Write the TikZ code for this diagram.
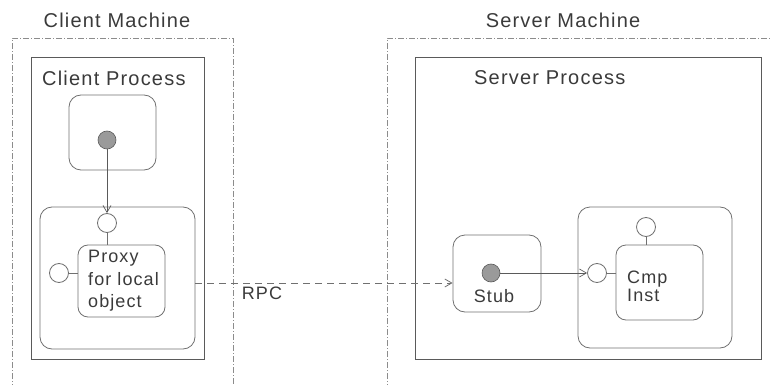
\documentclass[tikz,border=0pt]{standalone}
\usepackage{fontspec}
\setmainfont[LetterSpace=6]{Liberation Sans}
\usetikzlibrary{arrows.meta}
\definecolor{ink}{HTML}{3A3A3A}
\definecolor{frameline}{HTML}{8C8C8C}
\definecolor{procline}{HTML}{5A5A5A}
\definecolor{boxline}{HTML}{707070}
\definecolor{dotfill}{HTML}{9A9A9A}
\tikzset{
  machine/.style={draw=frameline, line width=0.7pt, dash pattern=on 6pt off 2pt on 1pt off 2pt},
  procbox/.style={draw=procline, line width=0.8pt, inner sep=0pt},
  rbox/.style={draw=boxline, line width=0.8pt, rounded corners=12pt, inner sep=0pt},
  dot/.style={circle, draw=procline, fill=dotfill, line width=0.6pt, minimum size=18pt, inner sep=0pt},
  port/.style={circle, draw=boxline, fill=white, line width=0.8pt, minimum size=19pt, inner sep=0pt},
  stem/.style={draw=boxline, line width=0.8pt},
  flow/.style={draw=procline, line width=0.7pt, -{Straight Barb[length=7pt,width=8pt]}},
  rpc/.style={draw=boxline, line width=0.8pt, dash pattern=on 7pt off 5pt, -{Straight Barb[length=7pt,width=8pt]}},
  title/.style={text=ink, font=\fontsize{20}{22}\selectfont, inner sep=0pt},
  label/.style={text=ink, font=\fontsize{18}{22.5}\selectfont, inner sep=0pt, align=left},
}
\begin{document}
\begin{tikzpicture}[x=1pt, y=-1pt]
\useasboundingbox (0,0) rectangle (771,385);

% machine frames (open at the bottom)
\draw[machine] (12,390) -- (12,38) -- (233,38) -- (233,390);
\draw[machine] (387,390) -- (387,38) -- (780,38);
\node[title] (cmach) at (117,20) {Client Machine};
\node[title] (smach) at (563,20) {Server Machine};

% process boxes
\node[procbox, minimum width=173pt, minimum height=302pt] (cproc) at (117.5,208) {};
\node[procbox, minimum width=346pt, minimum height=302pt] (sproc) at (588,208) {};
\node[title, anchor=west] (cproclbl) at (42,78) {Client Process};
\node[title, anchor=west] (sproclbl) at (474,78) {Server Process};

% client side
\node[rbox, minimum width=87pt, minimum height=75pt] (caller) at (112.5,132.5) {};
\node[dot] (cdot) at (107,140) {};
\node[rbox, minimum width=155pt, minimum height=142pt] (couter) at (117.5,278) {};
\node[rbox, minimum width=87pt, minimum height=72pt, rounded corners=10pt] (proxy) at (121.5,281) {};
\node[port] (ptop) at (107,223) {};
\node[port] (pleft) at (59,273) {};
\draw[stem] (ptop.south) -- (ptop.south |- proxy.north);
\draw[stem] (pleft.east) -- (pleft.east -| proxy.west);
\node[label, anchor=west] (proxylbl) at (88,281) {Proxy\\for local\\object};
\draw[flow] (cdot) -- (ptop);

% server side
\node[rbox, minimum width=88pt, minimum height=77pt] (stub) at (497,273.5) {};
\node[dot] (sdot) at (491,273) {};
\node[label] (stublbl) at (494,296) {Stub};
\node[rbox, minimum width=154pt, minimum height=141pt] (cmpouter) at (655,277.5) {};
\node[rbox, minimum width=87pt, minimum height=75pt, rounded corners=10pt] (cmp) at (659.5,282.5) {};
\node[port] (ctop) at (646,227) {};
\node[port] (cleft) at (597,273) {};
\draw[stem] (ctop.south) -- (ctop.south |- cmp.north);
\draw[stem] (cleft.east) -- (cleft.east -| cmp.west);
\node[label, anchor=west, font=\fontsize{18}{18}\selectfont] (cmplbl) at (627,286) {Cmp\\Inst};
\draw[flow] (sdot) -- (cleft);

% remote call
\coordinate (rpcy) at (0,283);
\draw[rpc] (couter.east |- rpcy) -- (stub.west |- rpcy);
\node[label] (rpclbl) at (262,293) {RPC};
\end{tikzpicture}
\end{document}
